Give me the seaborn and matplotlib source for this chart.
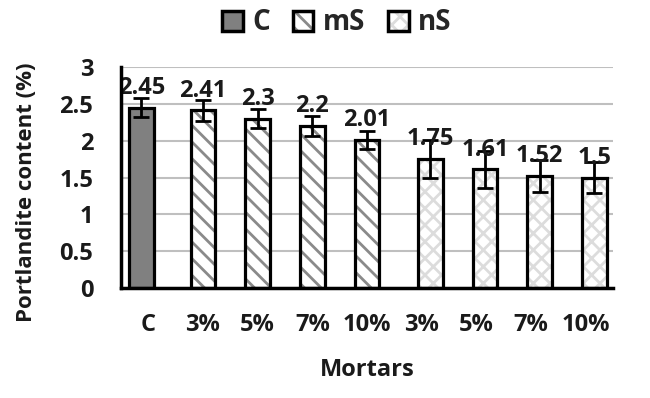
import numpy as np
import pandas as pd
import matplotlib
matplotlib.use("Agg")
import matplotlib.pyplot as plt
import seaborn as sns
from matplotlib.patches import Patch

# ---- data ----
groups = ["C", "mS", "mS", "mS", "mS", "nS", "nS", "nS", "nS"]
labels = ["C", "3%", "5%", "7%", "10%", "3%", "5%", "7%", "10%"]
values = [2.45, 2.41, 2.30, 2.20, 2.01, 1.75, 1.61, 1.52, 1.50]
errors = [0.13, 0.14, 0.13, 0.13, 0.12, 0.26, 0.25, 0.22, 0.21]
value_text = ["2.45", "2.41", "2.3", "2.2", "2.01", "1.75", "1.61", "1.52", "1.5"]
series = ["C", "mS", "nS"]
y_ticks = [0, 0.5, 1, 1.5, 2, 2.5, 3]
y_tick_labels = ["0", "0.5", "1", "1.5", "2", "2.5", "3"]

keys = [f"{g} {l}" for g, l in zip(groups, labels)]
df = pd.DataFrame({"key": keys, "group": groups, "value": values})

# ---- style ----
sns.set_style("white")
plt.rcParams["font.family"] = ["Open Sans", "DejaVu Sans"]
plt.rcParams["font.weight"] = "bold"
plt.rcParams["hatch.linewidth"] = 2.0

TXT = "#1a1a1a"
fills = {"C": "#808080", "mS": "white", "nS": "white"}
hatches = {"C": "", "mS": "\\\\", "nS": "xx"}
hatch_cols = {"C": "#808080", "mS": "#8a8a8a", "nS": "#dcdcdc"}
offsets = {"C": -0.13, "mS": 0.0, "nS": 0.16}
bar_w = 0.45

fig = plt.figure(figsize=(6.5, 3.98), dpi=100)
ax = fig.add_axes([121 / 650, 1 - 288 / 398, (613 - 121) / 650, (288 - 67) / 398])

# pass 1: fills + hatches
sns.barplot(data=df, x="key", y="value", hue="group", order=keys, hue_order=series,
            dodge=False, width=bar_w, palette=fills, errorbar=None, legend=False,
            saturation=1, ax=ax, linewidth=0)
for cont, s in zip(ax.containers, series):
    for p in cont.patches:
        p.set_hatch(hatches[s])
        p.set_edgecolor(hatch_cols[s])
        p.set_linewidth(0)
        p.set_x(p.get_x() + offsets[s])

# pass 2: black outlines
sns.barplot(data=df, x="key", y="value", order=keys, width=bar_w, color="white",
            errorbar=None, saturation=1, ax=ax, edgecolor="black", linewidth=2.3)
outline = ax.containers[-1]
centers = []
for p, g in zip(outline.patches, groups):
    p.set_facecolor("none")
    p.set_x(p.get_x() + offsets[g])
    p.set_zorder(3)
    centers.append(p.get_x() + p.get_width() / 2)

ax.errorbar(centers, values, yerr=errors, fmt="none", ecolor="black",
            elinewidth=2, capsize=5.5, capthick=2, zorder=4)

for cx, v, t in zip(centers, values, value_text):
    ax.annotate(t, (cx, v), xytext=(0, 10), textcoords="offset points",
                ha="center", va="baseline", fontsize=17, fontweight="bold",
                color=TXT, zorder=5)

ax.set_xlim(-0.5, len(keys) - 0.5)
ax.set_ylim(0, 3)
ax.set_yticks(y_ticks)
ax.set_yticklabels(y_tick_labels)
ax.set_xticks(range(len(keys)))
ax.set_xticklabels(labels)
ax.set_xticks(np.arange(0.5, len(keys), 1.0), minor=True)
ax.tick_params(axis="x", which="major", length=0, pad=18, labelsize=17, labelcolor=TXT)
ax.tick_params(axis="x", which="minor", direction="in", length=5, width=2, color="black")
ax.tick_params(axis="y", length=0, pad=20, labelsize=17, labelcolor=TXT)
for lab in ax.get_xticklabels() + ax.get_yticklabels():
    lab.set_fontweight("bold")

ax.grid(axis="y", color="#bfbfbf", linewidth=1.5, zorder=0)
ax.set_axisbelow(True)
for s in ["top", "right"]:
    ax.spines[s].set_visible(False)
for s in ["left", "bottom"]:
    ax.spines[s].set_color("black")
    ax.spines[s].set_linewidth(2.5)
    ax.spines[s].set_zorder(6)

ax.set_xlabel("Mortars", fontsize=17, fontweight="bold", labelpad=15, color=TXT)
ax.set_ylabel("Portlandite content (%)", fontsize=16, fontweight="bold", color=TXT)
ax.yaxis.set_label_coords((37 - 121) / 492, (288 - 192) / 221)

# legend
handles = []
for s in series:
    h1 = Patch(facecolor=fills[s], edgecolor=hatch_cols[s], hatch=hatches[s], linewidth=0)
    h2 = Patch(facecolor="none", edgecolor="black", linewidth=2.5)
    handles.append((h1, h2))
fig.legend(handles, series, loc="center", bbox_to_anchor=(337 / 650, 1 - 23 / 398),
           ncol=3, frameon=False, handlelength=0.75, handleheight=0.75,
           handletextpad=0.35, columnspacing=0.8, prop={"weight": "bold", "size": 20})

fig.savefig("out.png", dpi=100)
